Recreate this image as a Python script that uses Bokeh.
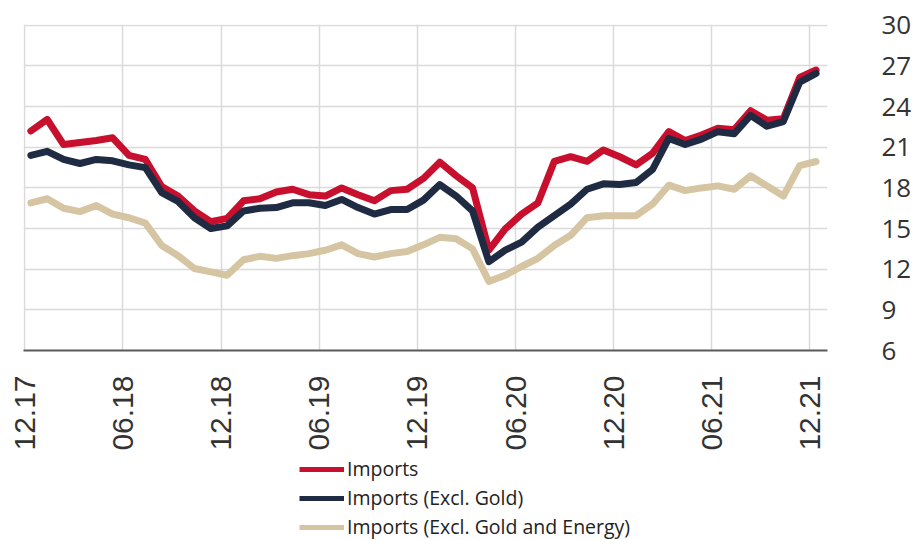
from bokeh.plotting import figure
from bokeh.models import FixedTicker, Range1d, LinearAxis, Legend, LegendItem, Grid
from bokeh.layouts import column
from bokeh.embed import file_html
from bokeh.resources import INLINE
import numpy as np

# ---- data ----
tick_labels = ["12.17", "06.18", "12.18", "06.19", "12.19", "06.20", "12.20", "06.21", "12.21"]

imports = [22.2, 23.05, 21.2, 21.35, 21.5, 21.7, 20.4, 20.1, 18.1, 17.4,
           16.3, 15.5, 15.75, 17.05, 17.2, 17.7, 17.9, 17.5, 17.4, 18.0,
           17.5, 17.05, 17.8, 17.9, 18.7, 19.9, 18.9, 18.0, 13.4, 14.97,
           16.07, 16.9, 19.96, 20.3, 19.96, 20.8, 20.3, 19.7, 20.55, 22.15,
           21.5, 21.9, 22.4, 22.3, 23.7, 23.0, 23.1, 26.15, 26.7]

imports_excl_gold = [20.4, 20.7, 20.1, 19.8, 20.1, 20.0, 19.7, 19.5, 17.65, 17.0,
                     15.8, 15.0, 15.2, 16.3, 16.5, 16.55, 16.9, 16.9, 16.7, 17.15,
                     16.55, 16.07, 16.4, 16.4, 17.1, 18.25, 17.4, 16.3, 12.55, 13.4,
                     14.0, 15.1, 15.95, 16.8, 17.9, 18.3, 18.25, 18.4, 19.35, 21.65,
                     21.2, 21.6, 22.15, 22.0, 23.35, 22.55, 22.9, 25.8, 26.45]

imports_excl_gold_energy = [16.9, 17.2, 16.5, 16.25, 16.7, 16.07, 15.8, 15.4, 13.75, 13.0,
                            12.05, 11.8, 11.55, 12.7, 12.95, 12.8, 13.0, 13.15, 13.4, 13.8,
                            13.15, 12.9, 13.15, 13.3, 13.8, 14.35, 14.25, 13.5, 11.1, 11.55,
                            12.2, 12.8, 13.75, 14.5, 15.8, 15.95, 15.95, 15.95, 16.8, 18.2,
                            17.8, 18.0, 18.15, 17.9, 18.9, 18.15, 17.4, 19.65, 19.95]

y_ticks = [6, 9, 12, 15, 18, 21, 24, 27, 30]

series_names = ["Imports", "Imports (Excl. Gold)", "Imports (Excl. Gold and Energy)"]
colors = ["#c8102e", "#1f2b42", "#d6c5a3"]
series = [imports, imports_excl_gold, imports_excl_gold_energy]

# ---- main chart ----
x = list(range(len(imports)))
tick_offset = -0.37
tick_pos = [tick_offset + 6 * k for k in range(len(tick_labels))]

p = figure(width=914, height=453, output_backend="svg", toolbar_location=None,
           x_range=Range1d(-0.45, 48.7), y_range=Range1d(6, 30.06),
           min_border_top=24, min_border_left=23, min_border_bottom=100,
           min_border_right=86, y_axis_location=None)
p.outline_line_color = None
p.background_fill_color = "white"
p.border_fill_color = "white"

xa = p.xaxis[0]
xa.ticker = FixedTicker(ticks=tick_pos)
xa.major_label_overrides = {t: lab for t, lab in zip(tick_pos, tick_labels)}
xa.major_label_orientation = np.pi / 2
xa.major_label_text_font = "Liberation Sans"
xa.major_label_text_font_size = "30px"
xa.major_label_text_color = "#333333"
xa.major_label_standoff = 19
xa.major_tick_line_color = None
xa.minor_tick_line_color = None
xa.axis_line_color = "#5a5a5a"
xa.axis_line_width = 2

ya = LinearAxis(ticker=FixedTicker(ticks=y_ticks))
ya.major_label_text_font = "Open Sans"
ya.major_label_text_font_size = "26px"
ya.major_label_text_color = "#333333"
ya.major_label_standoff = 48
ya.major_tick_line_color = None
ya.minor_tick_line_color = None
ya.axis_line_color = None
p.add_layout(ya, "right")

p.xgrid.ticker = FixedTicker(ticks=tick_pos)
p.xgrid.grid_line_color = "#dadada"
p.xgrid.grid_line_width = 1.5
p.ygrid.visible = False
yg = Grid(dimension=1, ticker=FixedTicker(ticks=y_ticks[1:]),
          grid_line_color="#dadada", grid_line_width=1.5)
p.add_layout(yg, "center")

for vals, col in zip(series, colors):
    p.line(x, vals, line_color=col, line_width=7, line_join="round", line_cap="round")

# ---- legend strip below ----
lg = figure(width=914, height=87, output_backend="svg", toolbar_location=None,
            x_range=Range1d(0, 1), y_range=Range1d(0, 1),
            min_border_top=0, min_border_left=0, min_border_bottom=0, min_border_right=0,
            x_axis_location=None, y_axis_location=None)
lg.outline_line_color = None
lg.xgrid.visible = False
lg.ygrid.visible = False
leg_r = [lg.line([np.nan], [np.nan], line_color=col, line_width=5) for col in colors]
legend = Legend(items=[LegendItem(label=n, renderers=[r]) for n, r in zip(series_names, leg_r)],
                location=(276, 0), orientation="vertical",
                label_text_font="Open Sans", label_text_font_size="19.5px", label_text_color="#222222",
                glyph_width=45, glyph_height=20, label_standoff=3, spacing=2,
                padding=0, margin=0, border_line_color=None, background_fill_alpha=0)
lg.add_layout(legend, "center")

layout = column(p, lg, spacing=0)
open("out.html", "w").write(file_html(layout, INLINE))
